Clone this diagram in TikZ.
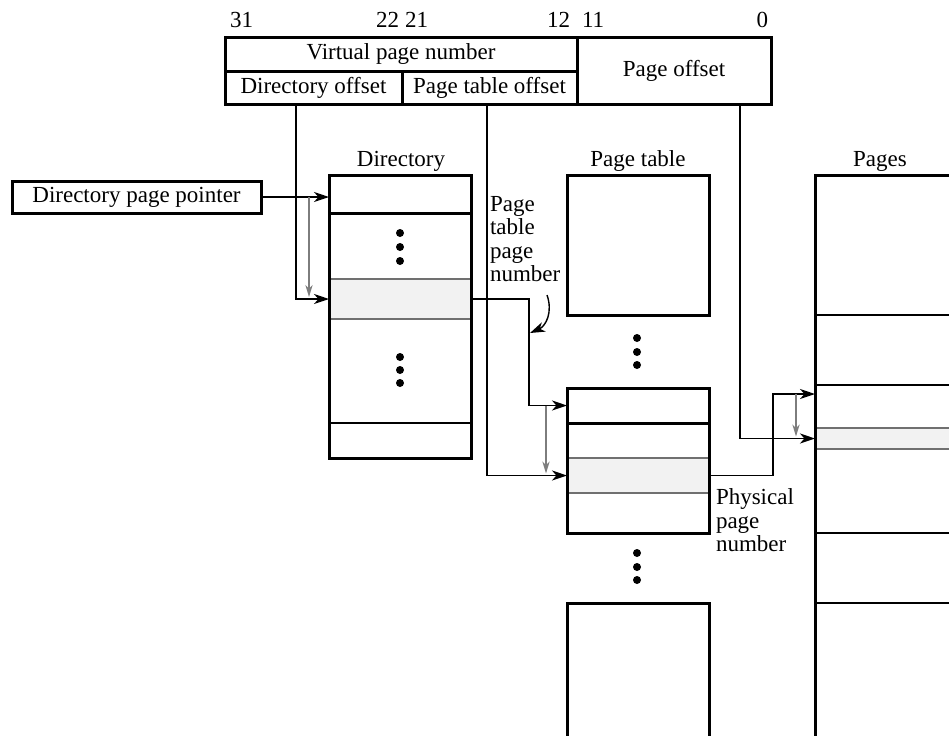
\documentclass[tikz,border=0pt]{standalone}
\usepackage{fontspec}
\setmainfont{Liberation Serif}
\usetikzlibrary{arrows.meta,calc}
\definecolor{shadegray}{RGB}{242,242,242}
\definecolor{linegray}{RGB}{112,112,112}
\definecolor{arrowgray}{RGB}{125,125,125}
\begin{document}
\begin{tikzpicture}[x=0.5pt,y=-0.5pt,
  every node/.style={inner sep=0pt, outer sep=0pt, font=\fontsize{11.5}{11.75}\selectfont},
  cell/.style={draw, line width=1.5pt, anchor=north west},
  row/.style={draw, line width=1pt, anchor=north west},
  shade/.style={draw=linegray, fill=shadegray, line width=1pt, anchor=north west},
  lbl/.style={anchor=base},
  link/.style={line width=0.7pt, -{Stealth[length=7.5pt,width=5pt,inset=2.2pt]}},
  offs/.style={draw=arrowgray, line width=0.9pt, -{Stealth[length=6pt,width=3.6pt,inset=1.8pt]}},
]
\useasboundingbox (0,0) rectangle (949,735);
\clip (0,0) rectangle (949,735);

% ---------- virtual address ----------
\node[cell, minimum width=176pt, minimum height=17pt] (vpn) at (225,37) {Virtual page number};
\node[cell, minimum width=88.5pt, minimum height=16.5pt] (dirofs) at (225,71) {Directory offset};
\node[cell, minimum width=87.5pt, minimum height=16.5pt] (ptofs) at (402,71) {Page table offset};
\node[cell, minimum width=97pt, minimum height=33.5pt] (pofs) at (577,37) {Page offset};

\node[anchor=base west] (b31) at (230,27) {31};
\node[anchor=base east] (b22) at (399,27) {22};
\node[anchor=base west] (b21) at (405,27) {21};
\node[anchor=base east] (b12) at (570,27) {12};
\node[anchor=base west] (b11) at (582,27) {11};
\node[anchor=base east] (b0) at (768,27) {0};

% ---------- directory page pointer ----------
\node[cell, minimum width=124.5pt, minimum height=16pt] (dirptr) at (12,181) {Directory page pointer};

% ---------- directory ----------
\node[shade, minimum width=71pt, minimum height=20pt] (dirsh) at (329,279) {};
\node[cell, minimum width=71pt, minimum height=19pt] (dir0) at (329,175) {};
\node[row, minimum width=71pt, minimum height=17.5pt] (dirN) at (329,423) {};
\node[cell, minimum width=71pt, minimum height=141.5pt] (dir) at (329,175) {};
\node[lbl] (dirlbl) at (401,166) {Directory};
\foreach \y in {233,247,261,357,370,383} \fill (400,\y) circle[radius=2pt];

% ---------- page tables ----------
\node[cell, minimum width=71pt, minimum height=70pt] (pt1) at (567,175) {};
\node[shade, minimum width=71pt, minimum height=17.5pt] (pt2sh) at (567,458) {};
\node[cell, minimum width=71pt, minimum height=17.5pt] (pt2a) at (567,388) {};
\node[cell, minimum width=71pt, minimum height=72.5pt] (pt2) at (567,388) {};
\node[cell, minimum width=71pt, minimum height=80pt] (pt3) at (567,603) {};
\node[lbl] (ptlbl) at (638,166) {Page table};
\foreach \y in {338,352,365,553,567,580} \fill (637,\y) circle[radius=2pt];

% ---------- pages ----------
\node[shade, minimum width=92.5pt, minimum height=10.5pt] (pgsh) at (815,428) {};
\node[row, minimum width=92.5pt, minimum height=70pt] (pg1) at (815,175) {};
\node[row, minimum width=92.5pt, minimum height=35pt] (pg2) at (815,315) {};
\node[row, minimum width=92.5pt, minimum height=74pt] (pg3) at (815,385) {};
\node[row, minimum width=92.5pt, minimum height=35pt] (pg4) at (815,533) {};
\node[row, minimum width=92.5pt, minimum height=80pt] (pg5) at (815,603) {};
\node[cell, minimum width=92.5pt, minimum height=300pt] (pg) at (815,175) {};
\node[lbl] (pglbl) at (880,166) {Pages};

% ---------- labels ----------
\node[anchor=north west, align=left] (ptpn) at (490,196) {Page\\table\\page\\number};
\node[anchor=north west, align=left] (ppn) at (716,489) {Physical\\page\\number};

% ---------- connectors ----------
\draw[link] (dirptr.east) -- (dirptr.east -| dir0.west);
\draw[offs] ($(dirptr.east -| dir0.west)+(-20,0)$) -- ($(dirsh.west)+(-20,-2)$);
\draw[link] ([xshift=-8.75pt]dirofs.south) |- (dirsh.west);

\draw[link] (dirsh.east) -- ++(58,0) |- (pt2a.west);
\draw[offs] ($(pt2a.west)+(-21,0)$) -- ($(pt2sh.west)+(-21,-2)$);
\draw[link] ([xshift=-1.25pt]ptofs.south) |- (pt2sh.west);

\draw[link] (pt2sh.east) -- ++(64,0) |- ($(pg3.north west)+(0,9)$);
\draw[offs] ($(pg3.north west)+(-19,9)$) -- ($(pgsh.west)+(-19,-2)$);
\draw[link] ([xshift=33pt]pofs.south) |- (pgsh.west);

\coordinate (cv1) at (547,295);
\coordinate (cv2) at (530,333);
\draw[link] (cv1) .. controls (553,312) and (546,326) .. (cv2);
\end{tikzpicture}
\end{document}
